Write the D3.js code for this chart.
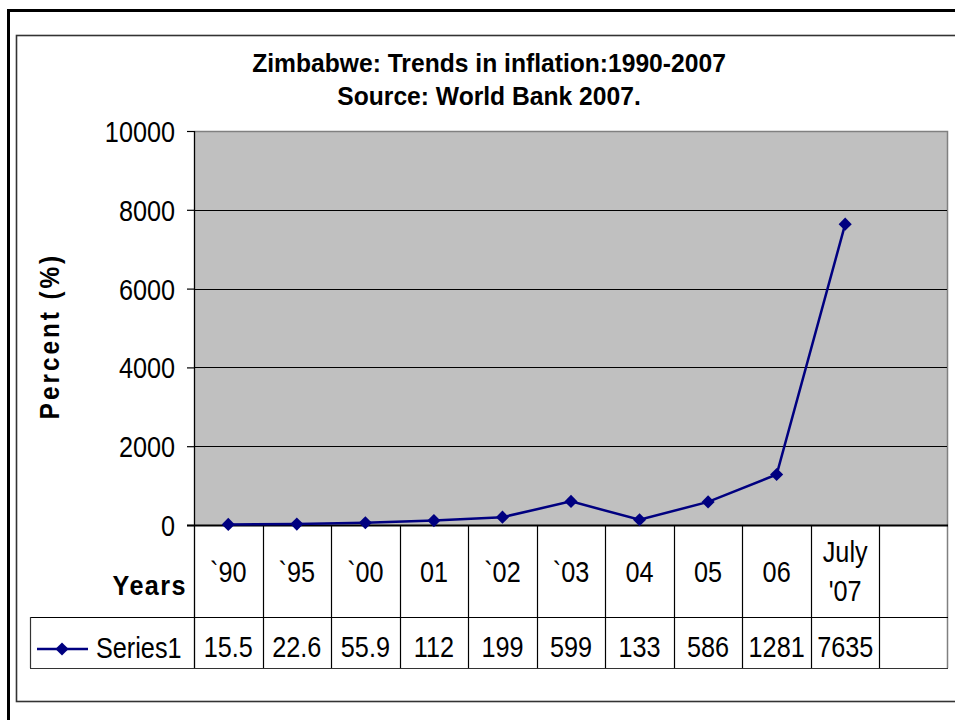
<!DOCTYPE html>
<html>
<head>
<meta charset="utf-8">
<script src="https://cdn.jsdelivr.net/npm/d3@7"></script>
<style>
  html, body { margin: 0; padding: 0; background: #fff; }
  svg { display: block; }
  text { font-family: "Liberation Sans", Arial, sans-serif; fill: #000; }
</style>
</head>
<body>
<svg id="chart" width="955" height="720"></svg>
<script>
// ---- data ----
const categories = ["`90", "`95", "`00", "01", "`02", "`03", "04", "05", "06", "July\n'07"];
const values = [15.5, 22.6, 55.9, 112, 199, 599, 133, 586, 1281, 7635];
const valueLabels = ["15.5", "22.6", "55.9", "112", "199", "599", "133", "586", "1281", "7635"];
const yTicks = [0, 2000, 4000, 6000, 8000, 10000];
const seriesName = "Series1";
const titleLines = ["Zimbabwe: Trends in inflation:1990-2007", "Source: World Bank 2007."];
const yTitle = "Percent (%)";
const xTitle = "Years";
const slotCount = 11; // one empty slot at the right, as in the reference

// ---- layout ----
const svg = d3.select("#chart");
const plot = { left: 194, right: 948, top: 131, bottom: 525 };
const headerBottom = 617, tableBottom = 668, tableLeft = 30;
const navy = "#000080";
const FS = 29, SX = 0.87; // regular text: tall, slightly condensed

// frames
svg.append("rect").attr("x", 8.5).attr("y", 10.5).attr("width", 1000).attr("height", 800)
  .attr("fill", "none").attr("stroke", "#000").attr("stroke-width", 3);
svg.append("rect").attr("x", 16.5).attr("y", 35.5).attr("width", 1000).attr("height", 666)
  .attr("fill", "none").attr("stroke", "#333").attr("stroke-width", 1.6);

// title
svg.append("g").selectAll("text").data(titleLines).join("text")
  .attr("transform", (d, i) => `translate(489,${72 + i * 32.5}) scale(0.93,1)`)
  .attr("text-anchor", "middle").attr("font-weight", "bold").attr("font-size", 26.5)
  .text(d => d);

// scales
const x = d3.scaleBand().domain(d3.range(slotCount)).range([plot.left, plot.right]).padding(0);
const y = d3.scaleLinear().domain([0, 10000]).range([plot.bottom, plot.top]);

// plot area
svg.append("rect").attr("x", plot.left).attr("y", plot.top)
  .attr("width", plot.right - plot.left).attr("height", plot.bottom - plot.top)
  .attr("fill", "#C0C0C0");
// top and right border (gray)
svg.append("path")
  .attr("d", `M${plot.left},${plot.top + 0.5}H${plot.right - 0.5}V${tableBottom}`)
  .attr("fill", "none").attr("stroke", "#808080").attr("stroke-width", 1.5);

// gridlines
svg.append("g").selectAll("line").data(yTicks.filter(t => t > 0 && t < 10000)).join("line")
  .attr("x1", plot.left).attr("x2", plot.right - 1)
  .attr("y1", d => Math.round(y(d)) + 0.5).attr("y2", d => Math.round(y(d)) + 0.5)
  .attr("stroke", "#000").attr("stroke-width", 1.2);

// y axis
const yAxis = d3.axisLeft(y).tickValues(yTicks).tickSize(7).tickPadding(12).tickFormat(d3.format("d"));
const gy = svg.append("g").attr("transform", `translate(${plot.left},0)`).call(yAxis);
gy.select(".domain").remove();
gy.selectAll(".tick line").attr("stroke", "#000").attr("stroke-width", 1.2);
gy.selectAll(".tick text").attr("font-size", FS).attr("font-family", "Liberation Sans, Arial, sans-serif")
  .attr("fill", "#000").attr("x", 0).attr("dy", "0.36em")
  .attr("transform", `translate(-19,0) scale(${SX},1)`);
svg.append("line").attr("x1", plot.left + 0.5).attr("x2", plot.left + 0.5)
  .attr("y1", plot.top).attr("y2", tableBottom).attr("stroke", "#000").attr("stroke-width", 1.3);
// x axis baseline
svg.append("line").attr("x1", plot.left - 7).attr("x2", plot.right)
  .attr("y1", plot.bottom + 0.5).attr("y2", plot.bottom + 0.5).attr("stroke", "#000").attr("stroke-width", 1.8);

// y title
svg.append("text").attr("transform", `translate(59,336) rotate(-90) scale(0.9,1)`)
  .attr("text-anchor", "middle").attr("font-weight", "bold").attr("font-size", 27)
  .attr("letter-spacing", 3.3).text(yTitle);

// data table grid
const bounds = d3.range(slotCount + 1).map(i => i < slotCount ? x(i) : plot.right);
svg.append("g").selectAll("line").data(bounds.slice(1, -1)).join("line")
  .attr("x1", d => Math.round(d) + 0.5).attr("x2", d => Math.round(d) + 0.5)
  .attr("y1", plot.bottom).attr("y2", tableBottom)
  .attr("stroke", "#000").attr("stroke-width", 1.2);
svg.append("line").attr("x1", tableLeft).attr("x2", plot.right)
  .attr("y1", headerBottom + 0.5).attr("y2", headerBottom + 0.5).attr("stroke", "#000").attr("stroke-width", 1.2);
svg.append("line").attr("x1", tableLeft).attr("x2", plot.right)
  .attr("y1", tableBottom + 0.5).attr("y2", tableBottom + 0.5).attr("stroke", "#333").attr("stroke-width", 1.2);
svg.append("line").attr("x1", tableLeft + 0.5).attr("x2", tableLeft + 0.5)
  .attr("y1", headerBottom).attr("y2", tableBottom).attr("stroke", "#333").attr("stroke-width", 1.2);

// category labels
const catG = svg.append("g").selectAll("text").data(categories).join("text")
  .attr("text-anchor", "middle").attr("font-size", FS)
  .attr("transform", (d, i) => `translate(${x(i) + x.bandwidth() / 2},0) scale(${SX},1)`);
catG.each(function(d) {
  const lines = d.split("\n");
  const t = d3.select(this);
  const base = lines.length === 1 ? 582 : 562;
  lines.forEach((ln, k) => t.append("tspan").attr("x", 0).attr("y", base + k * 39).text(ln));
});

// value labels
svg.append("g").selectAll("text").data(valueLabels).join("text")
  .attr("transform", (d, i) => `translate(${x(i) + x.bandwidth() / 2},657) scale(${SX},1)`)
  .attr("text-anchor", "middle").attr("font-size", FS).text(d => d);

// x title
svg.append("text").attr("transform", "translate(187,595) scale(0.9,1)").attr("text-anchor", "end")
  .attr("font-weight", "bold").attr("font-size", 28).attr("letter-spacing", 1.6).text(xTitle);

// legend key
const diamond = d3.symbol().type(d3.symbolDiamond2).size(110);
svg.append("line").attr("x1", 37).attr("x2", 88).attr("y1", 649).attr("y2", 649)
  .attr("stroke", navy).attr("stroke-width", 2.5);
svg.append("path").attr("d", diamond()).attr("transform", "translate(62,649)").attr("fill", navy);
svg.append("text").attr("transform", `translate(96,658) scale(${SX},1)`).attr("font-size", FS).text(seriesName);

// series line
const line = d3.line().x((d, i) => x(i) + x.bandwidth() / 2).y(d => y(d));
svg.append("path").datum(values).attr("d", line)
  .attr("fill", "none").attr("stroke", navy).attr("stroke-width", 2.5);
svg.append("g").selectAll("path").data(values).join("path")
  .attr("d", diamond())
  .attr("transform", (d, i) => `translate(${x(i) + x.bandwidth() / 2},${y(d)})`)
  .attr("fill", navy);
</script>
</body>
</html>
